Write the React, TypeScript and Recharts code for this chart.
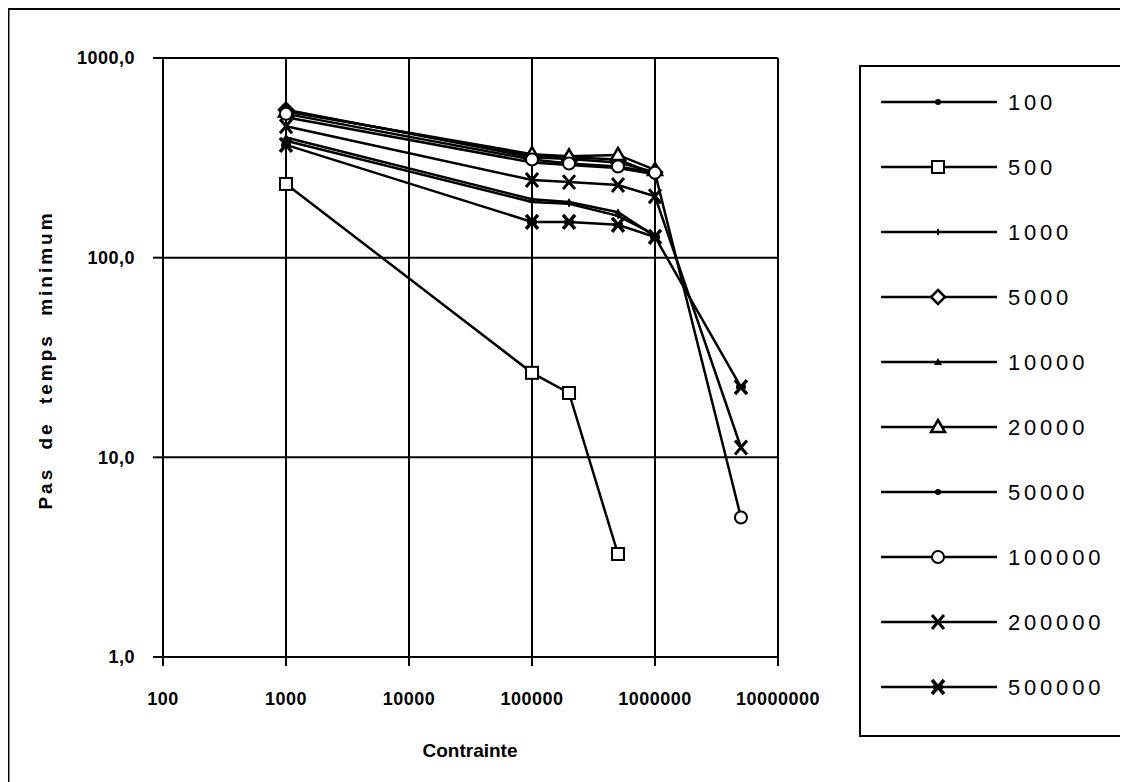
import React from "react";
import {
  LineChart,
  Line,
  XAxis,
  YAxis,
  CartesianGrid,
} from "recharts";

// Contrainte values where the series were sampled
const contrainte = [1000, 100000, 200000, 500000, 1000000, 5000000];

// minimum time step per series (null = no point)
const s100 = [545, 325, 318, 310, 262, null];
const s500 = [234, 26.5, 21, 3.28, null, null];
const s1000 = [385, 190, 186, 162, 130, null];
const s5000 = [550, 318, 312, 300, 268, null];
const s10000 = [400, 196, 190, 169, 128, null];
const s20000 = [540, 330, 322, 327, 275, null];
const s50000 = [505, 300, 291, 281, 262, null];
const s100000 = [525, 310, 296, 286, 266, 5.0];
const s200000 = [455, 245, 239, 231, 203, 11.2];
const s500000 = [367, 151, 151, 146, 127, 22.5];

const seriesNames = ["100", "500", "1000", "5000", "10000", "20000", "50000", "100000", "200000", "500000"];
const seriesValues = [s100, s500, s1000, s5000, s10000, s20000, s50000, s100000, s200000, s500000];
const seriesMarkers = ["dot", "square", "plus", "diamond", "smalltri", "triangle", "dot", "circle", "x", "star"];

const xTicks = [100, 1000, 10000, 100000, 1000000, 10000000];
const yTicks = [1, 10, 100, 1000];

const FONT = '"Liberation Sans", Arial, Helvetica, sans-serif';

const series = seriesNames.map((name, i) => ({
  name,
  marker: seriesMarkers[i],
  data: contrainte
    .map((x, j) => ({ x, y: seriesValues[i][j] }))
    .filter((p) => p.y != null),
}));

function Marker({ type, cx, cy }: { type: string; cx: number; cy: number }) {
  const k = "#000";
  switch (type) {
    case "dot":
      return <circle cx={cx} cy={cy} r={3} fill={k} />;
    case "square":
      return <rect x={cx - 6} y={cy - 6} width={12} height={12} fill="#fff" stroke={k} strokeWidth={2} />;
    case "plus":
      return (
        <path d={`M${cx - 3},${cy}h6M${cx},${cy - 3}v6`} stroke={k} strokeWidth={2} />
      );
    case "diamond":
      return (
        <path
          d={`M${cx},${cy - 7}L${cx + 7},${cy}L${cx},${cy + 7}L${cx - 7},${cy}Z`}
          fill="#fff"
          stroke={k}
          strokeWidth={2.5}
        />
      );
    case "smalltri":
      return <path d={`M${cx},${cy - 4}L${cx + 4},${cy + 3}L${cx - 4},${cy + 3}Z`} fill={k} />;
    case "triangle":
      return (
        <path
          d={`M${cx},${cy - 7}L${cx + 7},${cy + 5}L${cx - 7},${cy + 5}Z`}
          fill="#fff"
          stroke={k}
          strokeWidth={2.5}
        />
      );
    case "circle":
      return <circle cx={cx} cy={cy} r={6} fill="#fff" stroke={k} strokeWidth={2} />;
    case "x":
      return (
        <path
          d={`M${cx - 6},${cy - 7}L${cx + 6},${cy + 7}M${cx + 6},${cy - 7}L${cx - 6},${cy + 7}`}
          stroke={k}
          strokeWidth={3}
        />
      );
    case "star":
      return (
        <path
          d={`M${cx - 6},${cy - 7}L${cx + 6},${cy + 7}M${cx + 6},${cy - 7}L${cx - 6},${cy + 7}M${cx - 5},${cy}h10`}
          stroke={k}
          strokeWidth={3.5}
        />
      );
    default:
      return null;
  }
}

const fmtY = (v: number) => v.toFixed(1).replace(".", ",");

export default function App() {
  return (
    <div
      style={{
        position: "relative",
        width: 1128,
        height: 782,
        marginLeft: -8,
        marginTop: -8,
        background: "#fff",
        fontFamily: FONT,
      }}
    >
      <LineChart
        width={1128}
        height={782}
        margin={{ top: 58, right: 350, bottom: 65, left: 63 }}
        style={{ position: "absolute", left: 0, top: 0 }}
      >
        <CartesianGrid stroke="#000" strokeWidth={2} />
        <XAxis
          dataKey="x"
          type="number"
          scale="log"
          domain={[100, 10000000]}
          ticks={xTicks}
          interval={0}
          height={60}
          tickSize={9}
          tickMargin={26}
          tick={{ fill: "#000", fontSize: 18, fontWeight: 700, fontFamily: FONT, letterSpacing: 0.5 }}
          axisLine={{ stroke: "#000", strokeWidth: 2 }}
          tickLine={{ stroke: "#000", strokeWidth: 2 }}
          label={{
            content: () => (
              <text
                x={470}
                y={750}
                textAnchor="middle"
                dominantBaseline="central"
                fontSize={19}
                fontWeight={700}
                fontFamily={FONT}
                fill="#000"
              >
                Contrainte
              </text>
            ),
          }}
        />
        <YAxis
          type="number"
          scale="log"
          domain={[1, 1000]}
          ticks={yTicks}
          interval={0}
          width={100}
          tickSize={10}
          tickMargin={18}
          tickFormatter={fmtY}
          tick={{ fill: "#000", fontSize: 18, fontWeight: 700, fontFamily: FONT, letterSpacing: 0.5 }}
          axisLine={{ stroke: "#000", strokeWidth: 2 }}
          tickLine={{ stroke: "#000", strokeWidth: 2 }}
          label={{
            content: () => (
              <text
                x={45}
                y={360}
                transform="rotate(-90 45 360)"
                textAnchor="middle"
                dominantBaseline="central"
                fontSize={19}
                fontWeight={700}
                fontFamily={FONT}
                letterSpacing={3}
                wordSpacing={9}
                fill="#000"
              >
                Pas de temps minimum
              </text>
            ),
          }}
        />
        {series.map((s) => (
          <Line
            key={s.name}
            name={s.name}
            data={s.data}
            dataKey="y"
            type="linear"
            stroke="#000"
            strokeWidth={2.5}
            activeDot={false}
            isAnimationActive={false}
            dot={(p: any) => (
              <Marker key={`${s.name}-${p.index}`} type={s.marker} cx={p.cx} cy={p.cy} />
            )}
          />
        ))}
      </LineChart>
      <svg
        width={1128}
        height={782}
        style={{ position: "absolute", left: 0, top: 0, zIndex: 2, pointerEvents: "none" }}
      >
        <path d="M8,782V8.5H1128" fill="none" stroke="#000" strokeWidth={3} />
      </svg>
      <div
        style={{
          position: "absolute",
          left: 859,
          top: 65,
          width: 265,
          height: 668,
          border: "2px solid #000",
          background: "#fff",
          zIndex: 3,
        }}
      >
        <svg width={265} height={668}>
          {series.map((s, i) => {
            const y = 35 + i * 65;
            return (
              <g key={s.name}>
                <line x1={20} x2={136} y1={y} y2={y} stroke="#000" strokeWidth={2.5} />
                <Marker type={s.marker} cx={77} cy={y} />
                <text
                  x={147}
                  y={y}
                  dominantBaseline="central"
                  fontSize={22}
                  letterSpacing={3.8}
                  fontFamily={FONT}
                  fill="#000"
                >
                  {s.name}
                </text>
              </g>
            );
          })}
        </svg>
      </div>
    </div>
  );
}
